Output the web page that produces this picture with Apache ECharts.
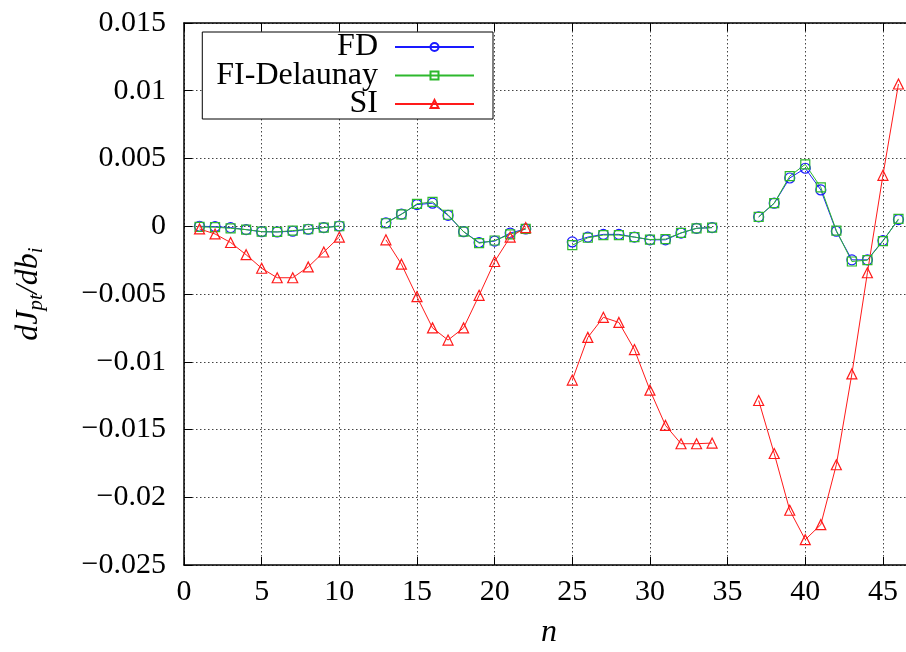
<!DOCTYPE html>
<html><head><meta charset="utf-8">
<script src="https://cdn.jsdelivr.net/npm/echarts@6/dist/echarts.min.js"></script>
<style>html,body{margin:0;padding:0;background:#fff}#c{width:906px;height:652px}</style>
</head><body><div id="c"></div>
<script>
const nValues = [1,2,3,4,5,6,7,8,9,10,11,12,13,14,15,16,17,18,19,20,21,22,23,24,25,26,27,28,29,30,31,32,33,34,35,36,37,38,39,40,41,42,43,44,45,46];
const fd = [0.0000,-0.00003,-0.0001,-0.00025,-0.0004,-0.00042,-0.00037,-0.00022,-0.0001,0.00002,
  null,null,
  0.00025,0.0009,0.0016,0.0017,0.0008,-0.0004,-0.0012,-0.0011,-0.0005,-0.0002,
  null,null,
  -0.00116,-0.0008,-0.0006,-0.0006,-0.0008,-0.001,-0.001,-0.0005,-0.00015,-0.0001,
  null,null,
  0.00069,0.0017,0.00356,0.00428,0.00268,-0.00037,-0.00248,-0.00248,-0.00106,0.00049];
const fiDelaunay = [-0.00005,-0.00007,-0.00015,-0.00025,-0.0004,-0.00042,-0.00032,-0.00022,-0.0001,0.0000,
  null,null,
  0.00022,0.00088,0.00165,0.0018,0.00085,-0.0004,-0.00125,-0.00105,-0.0006,-0.0002,
  null,null,
  -0.0014,-0.00085,-0.00065,-0.00065,-0.0008,-0.00098,-0.00095,-0.00049,-0.00015,-0.0001,
  null,null,
  0.00069,0.0017,0.0037,0.00457,0.00287,-0.00032,-0.0026,-0.0025,-0.0011,0.00054];
const si = [-0.0002,-0.00057,-0.0012,-0.0021,-0.0031,-0.0038,-0.0038,-0.003,-0.0019,-0.0008,
  null,null,
  -0.001,-0.0028,-0.0052,-0.0075,-0.0084,-0.0075,-0.0051,-0.0026,-0.0008,-0.0001,
  null,null,
  -0.01135,-0.0082,-0.00672,-0.0071,-0.0091,-0.0121,-0.0147,-0.01605,-0.01605,-0.016,
  null,null,
  -0.01286,-0.01677,-0.02096,-0.02313,-0.02202,-0.0176,-0.0109,-0.00343,0.00376,0.0105];
const seriesNames = ['FD','FI-Delaunay','SI'];
const xTickLabels = ['0','5','10','15','20','25','30','35','40','45'];
const yTickLabels = ['\u22120.025','\u22120.02','\u22120.015','\u22120.01','\u22120.005','0','0.005','0.01','0.015'];
const xMin = 0, xMax = 47, xStep = 5;
const yMin = -0.025, yMax = 0.015, yStep = 0.005;

const FONT = "'Liberation Serif', 'DejaVu Serif', serif";
const toData = arr => nValues.map((n, i) => [n, arr[i] === null ? '-' : arr[i]]);
const gridLine = {show: true, lineStyle: {color: '#444', width: 1, type: [1.5, 2.5]}};

const chart = echarts.init(document.getElementById('c'), null, {renderer: 'canvas'});
function mk(name, data, color, symbol, size) {
  return {
    name, type: 'line', data: toData(data), symbol, symbolSize: size,
    showSymbol: true, connectNulls: false, animation: false,
    lineStyle: {color, width: 1},
    itemStyle: {color: 'rgba(255,255,255,0)', borderColor: color, borderWidth: 1.2},
    emphasis: {disabled: true}
  };
}
chart.setOption({
  backgroundColor: '#fff',
  animation: false,
  grid: {left: 184, top: 23, right: -8, bottom: 87, show: false, containLabel: false, outerBoundsMode: 'none'},
  legend: {
    orient: 'vertical', align: 'right', right: 413, top: 32,
    itemWidth: 79, itemHeight: 10, itemGap: -3.5,
    padding: [-1, 18, -1, 14],
    backgroundColor: '#fff', borderColor: '#000', borderWidth: 1, borderRadius: 0,
    textStyle: {fontFamily: FONT, fontSize: 32, color: '#000', lineHeight: 28, padding: [0, 12, 0, 0]},
    data: seriesNames
  },
  xAxis: [{
    type: 'value', min: xMin, max: xMax, interval: xStep,
    name: 'n', nameLocation: 'middle', nameGap: 52,
    nameTextStyle: {fontFamily: FONT, fontSize: 32, fontStyle: 'italic', color: '#000'},
    axisLine: {show: true, onZero: false, lineStyle: {color: '#000', width: 1.5}},
    axisTick: {show: true, inside: true, length: 8, lineStyle: {color: '#000', width: 1}},
    axisLabel: {fontFamily: FONT, fontSize: 30, color: '#000', margin: 12, showMaxLabel: false,
      formatter: v => xTickLabels[Math.round((v - xMin) / xStep)] || ''},
    splitLine: gridLine
  }, {
    type: 'value', min: xMin, max: xMax, interval: xStep, position: 'top',
    axisLine: {show: true, onZero: false, lineStyle: {color: '#000', width: 1.5}},
    axisTick: {show: true, inside: true, length: 8, lineStyle: {color: '#000', width: 1}},
    axisLabel: {show: false}, splitLine: {show: false}
  }],
  yAxis: {
    type: 'value', min: yMin, max: yMax, interval: yStep,
    name: '{i|dJ}{s|pt}{i|/db}{s|i}', nameLocation: 'middle', nameGap: 139, nameRotate: 90,
    nameTextStyle: {
      color: '#000',
      rich: {
        i: {fontFamily: FONT, fontSize: 32, fontStyle: 'italic', lineHeight: 32, verticalAlign: 'top', color: '#000'},
        s: {fontFamily: FONT, fontSize: 21, fontStyle: 'italic', lineHeight: 21, padding: [13, 0, 0, 0], verticalAlign: 'top', color: '#000'}
      }
    },
    axisLine: {show: true, onZero: false, lineStyle: {color: '#000', width: 1.5}},
    axisTick: {show: true, inside: true, length: 8, lineStyle: {color: '#000', width: 1}},
    axisLabel: {fontFamily: FONT, fontSize: 30, color: '#000', margin: 18,
      formatter: v => yTickLabels[Math.round((v - yMin) / yStep)] || ''},
    splitLine: gridLine
  },
  series: [
    mk(seriesNames[0], fd, '#1a1aff', 'circle', 10),
    mk(seriesNames[1], fiDelaunay, '#2db82d', 'rect', 9),
    mk(seriesNames[2], si, '#ff1a1a', 'triangle', 10)
  ]
});
</script>
</body></html>
